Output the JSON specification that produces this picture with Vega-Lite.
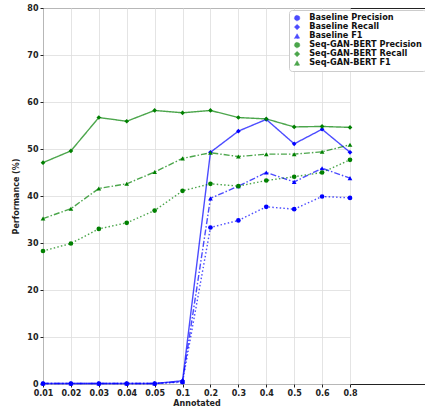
{
  "$schema": "https://vega.github.io/schema/vega-lite/v6.json",
  "width": 390,
  "height": 376,
  "autosize": {"type": "none"},
  "padding": {"left": 43, "top": 8, "right": 0, "bottom": 27},
  "background": "white",
  "config": {
    "font": "DejaVu Sans",
    "view": {"stroke": "#222", "strokeWidth": 1},
    "axis": {"labelFont": "DejaVu Sans", "labelFontWeight": "bold", "labelFontSize": 8, "labelColor": "#222", "titleFont": "DejaVu Sans", "titleFontWeight": "bold", "titleFontSize": 8, "titleColor": "#222", "gridColor": "#dddddd", "gridWidth": 0.8, "tickColor": "#222", "tickSize": 3, "domain": false}
  },
  "data": {
    "values": [
      {"annotated": "0.01", "series": "Baseline Precision", "value": 0.1},
      {"annotated": "0.02", "series": "Baseline Precision", "value": 0.1},
      {"annotated": "0.03", "series": "Baseline Precision", "value": 0.1},
      {"annotated": "0.04", "series": "Baseline Precision", "value": 0.1},
      {"annotated": "0.05", "series": "Baseline Precision", "value": 0.1},
      {"annotated": "0.1", "series": "Baseline Precision", "value": 0.4},
      {"annotated": "0.2", "series": "Baseline Precision", "value": 33.3},
      {"annotated": "0.3", "series": "Baseline Precision", "value": 34.8},
      {"annotated": "0.4", "series": "Baseline Precision", "value": 37.7},
      {"annotated": "0.5", "series": "Baseline Precision", "value": 37.2},
      {"annotated": "0.6", "series": "Baseline Precision", "value": 39.9},
      {"annotated": "0.8", "series": "Baseline Precision", "value": 39.6},
      {"annotated": "0.01", "series": "Baseline Recall", "value": 0.1},
      {"annotated": "0.02", "series": "Baseline Recall", "value": 0.1},
      {"annotated": "0.03", "series": "Baseline Recall", "value": 0.1},
      {"annotated": "0.04", "series": "Baseline Recall", "value": 0.1},
      {"annotated": "0.05", "series": "Baseline Recall", "value": 0.1},
      {"annotated": "0.1", "series": "Baseline Recall", "value": 0.7},
      {"annotated": "0.2", "series": "Baseline Recall", "value": 49.3},
      {"annotated": "0.3", "series": "Baseline Recall", "value": 53.8},
      {"annotated": "0.4", "series": "Baseline Recall", "value": 56.3},
      {"annotated": "0.5", "series": "Baseline Recall", "value": 51.1},
      {"annotated": "0.6", "series": "Baseline Recall", "value": 54.2},
      {"annotated": "0.8", "series": "Baseline Recall", "value": 49.3},
      {"annotated": "0.01", "series": "Baseline F1", "value": 0.1},
      {"annotated": "0.02", "series": "Baseline F1", "value": 0.1},
      {"annotated": "0.03", "series": "Baseline F1", "value": 0.1},
      {"annotated": "0.04", "series": "Baseline F1", "value": 0.1},
      {"annotated": "0.05", "series": "Baseline F1", "value": 0.1},
      {"annotated": "0.1", "series": "Baseline F1", "value": 0.5},
      {"annotated": "0.2", "series": "Baseline F1", "value": 39.5},
      {"annotated": "0.3", "series": "Baseline F1", "value": 42.1},
      {"annotated": "0.4", "series": "Baseline F1", "value": 45.0},
      {"annotated": "0.5", "series": "Baseline F1", "value": 43.0},
      {"annotated": "0.6", "series": "Baseline F1", "value": 45.9},
      {"annotated": "0.8", "series": "Baseline F1", "value": 43.8},
      {"annotated": "0.01", "series": "Seq-GAN-BERT Precision", "value": 28.3},
      {"annotated": "0.02", "series": "Seq-GAN-BERT Precision", "value": 29.9},
      {"annotated": "0.03", "series": "Seq-GAN-BERT Precision", "value": 33.0},
      {"annotated": "0.04", "series": "Seq-GAN-BERT Precision", "value": 34.3},
      {"annotated": "0.05", "series": "Seq-GAN-BERT Precision", "value": 36.9},
      {"annotated": "0.1", "series": "Seq-GAN-BERT Precision", "value": 41.1},
      {"annotated": "0.2", "series": "Seq-GAN-BERT Precision", "value": 42.6},
      {"annotated": "0.3", "series": "Seq-GAN-BERT Precision", "value": 42.1},
      {"annotated": "0.4", "series": "Seq-GAN-BERT Precision", "value": 43.3},
      {"annotated": "0.5", "series": "Seq-GAN-BERT Precision", "value": 44.1},
      {"annotated": "0.6", "series": "Seq-GAN-BERT Precision", "value": 45.0},
      {"annotated": "0.8", "series": "Seq-GAN-BERT Precision", "value": 47.7},
      {"annotated": "0.01", "series": "Seq-GAN-BERT Recall", "value": 47.1},
      {"annotated": "0.02", "series": "Seq-GAN-BERT Recall", "value": 49.6},
      {"annotated": "0.03", "series": "Seq-GAN-BERT Recall", "value": 56.7},
      {"annotated": "0.04", "series": "Seq-GAN-BERT Recall", "value": 55.9},
      {"annotated": "0.05", "series": "Seq-GAN-BERT Recall", "value": 58.2},
      {"annotated": "0.1", "series": "Seq-GAN-BERT Recall", "value": 57.7},
      {"annotated": "0.2", "series": "Seq-GAN-BERT Recall", "value": 58.2},
      {"annotated": "0.3", "series": "Seq-GAN-BERT Recall", "value": 56.7},
      {"annotated": "0.4", "series": "Seq-GAN-BERT Recall", "value": 56.4},
      {"annotated": "0.5", "series": "Seq-GAN-BERT Recall", "value": 54.7},
      {"annotated": "0.6", "series": "Seq-GAN-BERT Recall", "value": 54.8},
      {"annotated": "0.8", "series": "Seq-GAN-BERT Recall", "value": 54.6},
      {"annotated": "0.01", "series": "Seq-GAN-BERT F1", "value": 35.2},
      {"annotated": "0.02", "series": "Seq-GAN-BERT F1", "value": 37.3},
      {"annotated": "0.03", "series": "Seq-GAN-BERT F1", "value": 41.6},
      {"annotated": "0.04", "series": "Seq-GAN-BERT F1", "value": 42.6},
      {"annotated": "0.05", "series": "Seq-GAN-BERT F1", "value": 45.1},
      {"annotated": "0.1", "series": "Seq-GAN-BERT F1", "value": 48.0},
      {"annotated": "0.2", "series": "Seq-GAN-BERT F1", "value": 49.2},
      {"annotated": "0.3", "series": "Seq-GAN-BERT F1", "value": 48.4},
      {"annotated": "0.4", "series": "Seq-GAN-BERT F1", "value": 48.9},
      {"annotated": "0.5", "series": "Seq-GAN-BERT F1", "value": 48.9},
      {"annotated": "0.6", "series": "Seq-GAN-BERT F1", "value": 49.4},
      {"annotated": "0.8", "series": "Seq-GAN-BERT F1", "value": 50.9}
    ]
  },
  "mark": {"type": "line", "strokeWidth": 1.4, "opacity": 0.7, "point": {"filled": true, "size": 22, "opacity": 1}},
  "encoding": {
    "x": {
      "field": "annotated", "type": "ordinal", "sort": null,
      "scale": {"type": "point", "range": [0, 307], "padding": 0},
      "axis": {"title": "Annotated", "labelAngle": 0, "grid": true, "labelPadding": 2, "titlePadding": 2}
    },
    "y": {
      "field": "value", "type": "quantitative",
      "scale": {"domain": [0, 80], "nice": false},
      "axis": {"title": "Performance (%)", "values": [0, 10, 20, 30, 40, 50, 60, 70, 80], "grid": true, "labelPadding": 2, "titlePadding": 6}
    },
    "color": {
      "field": "series", "type": "nominal",
      "scale": {"domain": ["Baseline Precision", "Baseline Recall", "Baseline F1", "Seq-GAN-BERT Precision", "Seq-GAN-BERT Recall", "Seq-GAN-BERT F1"], "range": ["#0000ff", "#0000ff", "#0000ff", "#008000", "#008000", "#008000"]},
      "legend": {"title": null, "orient": "none", "legendX": 246, "legendY": 2, "labelFont": "DejaVu Sans", "labelFontWeight": "bold", "labelFontSize": 8.2, "labelColor": "#111", "rowPadding": 0, "symbolSize": 30, "symbolStrokeWidth": 0.5, "symbolOpacity": 1, "fillColor": "white", "strokeColor": "#cccccc", "cornerRadius": 3, "padding": 4, "labelOffset": 8}
    },
    "strokeDash": {
      "field": "series", "type": "nominal",
      "scale": {"domain": ["Baseline Precision", "Baseline Recall", "Baseline F1", "Seq-GAN-BERT Precision", "Seq-GAN-BERT Recall", "Seq-GAN-BERT F1"], "range": [[1.5, 2.2], [1, 0], [6, 2, 1.5, 2], [1.5, 2.2], [1, 0], [6, 2, 1.5, 2]]}
    },
    "shape": {
      "field": "series", "type": "nominal",
      "scale": {"domain": ["Baseline Precision", "Baseline Recall", "Baseline F1", "Seq-GAN-BERT Precision", "Seq-GAN-BERT Recall", "Seq-GAN-BERT F1"], "range": ["circle", "diamond", "triangle-up", "circle", "diamond", "triangle-up"]}
    }
  }
}
